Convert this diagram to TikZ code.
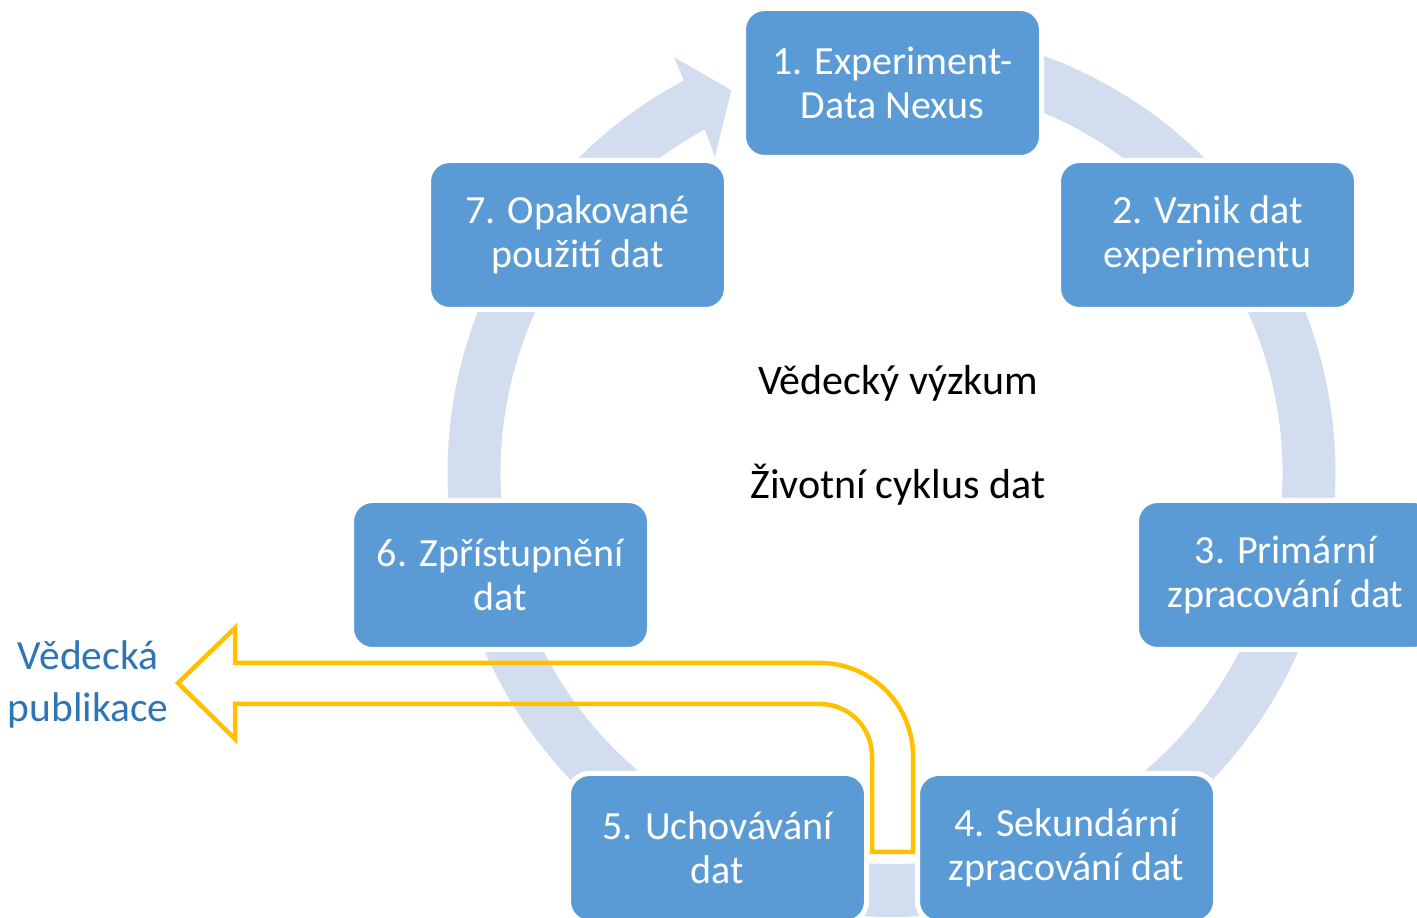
\documentclass[tikz,border=0pt]{standalone}
\usepackage{fontspec}
\setmainfont{Carlito}
\usepackage{tikz}
\usetikzlibrary{positioning}

\definecolor{boxblue}{RGB}{91,155,213}
\definecolor{ringblue}{RGB}{210,222,239}
\definecolor{pubyellow}{RGB}{255,192,0}
\definecolor{pubblue}{RGB}{46,117,182}

\tikzset{
  phase/.style={rectangle, rounded corners=21pt, fill=boxblue, draw=white,
    line width=5pt, minimum width=298pt, minimum height=149pt, inner sep=0pt,
    text=white, align=center, font=\fontsize{40}{44}\selectfont},
  label/.style={align=center, font=\fontsize{42}{48}\selectfont}
}

\begin{document}
\begin{tikzpicture}[x=1pt, y=1pt]
  \clip (0,0) rectangle (1417,918);
  \useasboundingbox (0,0) rectangle (1417,918);

  % kruh se sipkou
  \coordinate (mid) at (891.5,445);
  \begin{scope}[shift={(mid)}]
    \fill[ringblue] (90:444) arc[start angle=90, end angle=-242.1, radius=444]
      -- (-242.4:469) -- (-247.3:415) -- (-240.8:362) -- (-241.5:391)
      arc[start angle=-241.5, end angle=90, radius=391] -- cycle;
  \end{scope}

  % faze
  \node[phase] (exp)   at (892.5,835)  {1. Experiment-\\Data Nexus};
  \node[phase] (orig)  at (1207.5,683) {2. Vznik dat\\experimentu};
  \node[phase] (prim)  at (1285.5,343) {3. Primární\\zpracování dat};
  \node[phase] (sec)   at (1066.5,70)  {4. Sekundární\\zpracování dat};
  \node[phase] (keep)  at (717.5,70)   {5. Uchovávání\\dat};
  \node[phase] (share) at (500.5,343)  {6. Zpřístupnění\\dat};
  \node[phase] (reuse) at (577.5,683)  {7. Opakované\\použití dat};

  % stred
  \node[label] (sci)  at (898,535) {Vědecký výzkum};
  \node[label] (life) at (898,433) {Životní cyklus dat};

  % publikace
  \draw[pubyellow, line width=4.5pt, line join=miter]
    (872,66) -- (872,162) arc[start angle=0, end angle=90, radius=52]
    -- (235,214) -- (235,179) -- (178,235) -- (235,290) -- (235,255)
    -- (820,255) arc[start angle=90, end angle=0, radius=93]
    -- (913,66) -- cycle;
  \node[label, text=pubblue, font=\fontsize{41.5}{52}\selectfont] (pub) at (88,234) {Vědecká\\publikace};
\end{tikzpicture}
\end{document}
